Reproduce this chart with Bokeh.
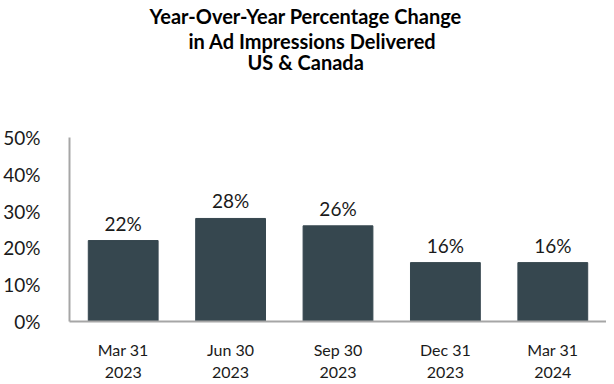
from bokeh.plotting import figure
from bokeh.models import ColumnDataSource, Range1d, NumeralTickFormatter, FixedTicker, LabelSet, FactorRange, Title
from bokeh.core.properties import value
from bokeh.embed import file_html
from bokeh.resources import INLINE

periods = ["Mar 31\n2023", "Jun 30\n2023", "Sep 30\n2023", "Dec 31\n2023", "Mar 31\n2024"]
yoy_change = [0.22, 0.28, 0.26, 0.16, 0.16]
bar_labels = ["22%", "28%", "26%", "16%", "16%"]
y_ticks = [0, 0.1, 0.2, 0.3, 0.4, 0.5]
title_lines = ["Year-Over-Year Percentage Change", "in Ad Impressions Delivered", "US & Canada"]

FONT = "Lato"
BAR = "#36474F"
TXT = "#1a1a1a"

src = ColumnDataSource(dict(x=periods, y=yoy_change, lab=bar_labels))

p = figure(x_range=FactorRange(*periods, range_padding=0), y_range=Range1d(0, 0.5),
           frame_width=537, frame_height=184, output_backend="svg", toolbar_location=None,
           min_border_left=61, min_border_right=0, min_border_top=0, min_border_bottom=0)

p.vbar(x="x", top="y", width=0.65, source=src, color=BAR)
p.add_layout(LabelSet(x="x", y="y", text="lab", source=src, text_align="center",
                      text_baseline="bottom", y_offset=6, text_font=value(FONT),
                      text_font_size="19px", text_color=TXT))

# spacer between title block and plot frame
p.add_layout(Title(text=" ", text_font=FONT, text_font_size="20px", standoff=40), "above")
offsets = [80, 119, 178]
standoffs = [3, -6, -4]
for line, off, so in reversed(list(zip(title_lines, offsets, standoffs))):
    p.add_layout(Title(text=line, text_font=FONT, text_font_size="20px", text_font_style="bold",
                       align="left", offset=off, standoff=so, text_color="#000000"), "above")

p.xgrid.visible = False
p.ygrid.visible = False
p.outline_line_color = None

p.yaxis.ticker = FixedTicker(ticks=y_ticks)
p.yaxis.formatter = NumeralTickFormatter(format="0%")
p.yaxis.major_tick_line_color = None
p.yaxis.minor_tick_line_color = None
p.yaxis.axis_line_color = "#A6A6A6"
p.yaxis.axis_line_width = 2
p.yaxis.major_label_text_font = FONT
p.yaxis.major_label_text_font_size = "19px"
p.yaxis.major_label_text_color = TXT
p.yaxis.major_label_standoff = 23

p.xaxis.major_tick_line_color = None
p.xaxis.minor_tick_line_color = None
p.xaxis.axis_line_color = "#A6A6A6"
p.xaxis.axis_line_width = 2
p.xaxis.major_label_text_font = FONT
p.xaxis.major_label_text_font_size = "16px"
p.xaxis.major_label_text_color = TXT
p.xaxis.major_label_standoff = 12

open("out.html", "w").write(file_html(p, INLINE))
